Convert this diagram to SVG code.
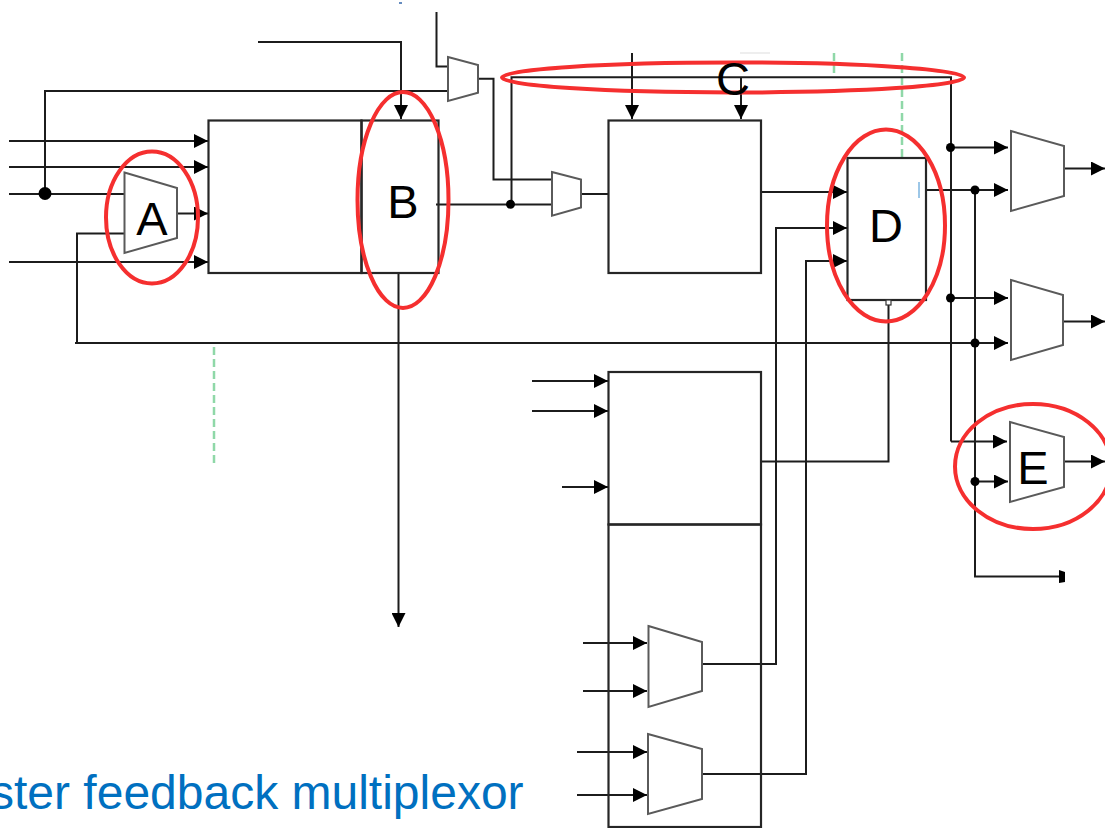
<svg xmlns="http://www.w3.org/2000/svg" width="1105" height="828" viewBox="0 0 1105 828">
<style>
.w{fill:none;stroke:#1c1c1c;stroke-width:2}
.a{marker-end:url(#h)}
.b{fill:none;stroke:#262626;stroke-width:2.200}
.m{fill:#fff;stroke:#5a5a5a;stroke-width:2}
.r{fill:none;stroke:#f52f2f;stroke-width:4}
.g{fill:none;stroke:#8fd8a8;stroke-width:2.500;stroke-dasharray:8 4}
.d{fill:#000}
.l{font-family:"Liberation Sans",Arial,sans-serif;font-size:47px;fill:#000;text-anchor:middle}
</style>
<defs>
<marker id="h" markerUnits="userSpaceOnUse" markerWidth="15" markerHeight="14" refX="14" refY="7" orient="auto"><path d="M0 0L14 7L0 14Z" fill="#000"/></marker>
</defs>
<rect width="1105" height="828" fill="#fff"/>
<g id="guides">
<path class="g" d="M214 347V467M834 53V75M902 53V157"/>
<path d="M740 53H770" fill="none" stroke="#ddd" stroke-width="1"/>
<path d="M919 182V198" fill="none" stroke="#3a8fd0" stroke-width="1"/>
<path d="M399 3H402" fill="none" stroke="#36a" stroke-width="1.500"/>
</g>
<g id="connectors">
<path class="w a" d="M258 42H401V119"/>
<path class="w" d="M436.500 12V66.500H448"/>
<path class="w" d="M448 91H45V193"/>
<path class="w a" d="M9 141H208"/>
<path class="w a" d="M9 167H208"/>
<path class="w" d="M9 194H125"/>
<path class="w a" d="M177 213.500H208"/>
<path class="w a" d="M9 262H208"/>
<path class="w" d="M124 233.500H77V343"/>
<path class="w a" d="M75 343H1008"/>
<path class="w a" d="M398.500 273V627"/>
<path class="w" d="M436 204.500H552"/>
<path class="w" d="M478 78.700H493.500V179.500H552"/>
<path class="w" d="M511.500 205V77.300H951V441.500"/>
<path class="w a" d="M951 441.500H1007"/>
<path class="w" d="M581 194H608"/>
<path class="w a" d="M632 53V119"/>
<path class="w a" d="M741 78V119"/>
<path class="w a" d="M761 192H847"/>
<path class="w a" d="M702 664H776V228H847"/>
<path class="w a" d="M702 774H806V261H847"/>
<path class="w" d="M761 461.500H888.500V305"/>
<path class="w a" d="M926 190H1008"/>
<path class="w a" d="M951 147.500H1008"/>
<path class="w a" d="M951 298H1008"/>
<path class="w" d="M975 190V576.500H1060"/>
<path d="M1059 570L1065 572V582L1059 583Z" fill="#000"/>
<path class="w a" d="M975 481.500H1008"/>
<path class="w a" d="M1064 168.500H1105"/>
<path class="w a" d="M1063 321.500H1105"/>
<path class="w a" d="M1063 461.500H1105"/>
<path class="w a" d="M532 381H608"/>
<path class="w a" d="M532 411H608"/>
<path class="w a" d="M562 487H608"/>
<path class="w a" d="M583 643H647"/>
<path class="w a" d="M583 691H647"/>
<path class="w a" d="M577 752H647"/>
<path class="w a" d="M577 795H647"/>
<circle class="d" cx="45" cy="193.500" r="6.500"/>
<circle class="d" cx="510.500" cy="204.300" r="4.500"/>
<circle class="d" cx="950.500" cy="147.500" r="4.500"/>
<circle class="d" cx="950.500" cy="298" r="4.500"/>
<circle class="d" cx="975" cy="190" r="4.500"/>
<circle class="d" cx="975" cy="343" r="4.500"/>
<circle class="d" cx="975" cy="481.500" r="4.500"/>
</g>
<g id="block-1"><rect class="b" x="208.500" y="120.500" width="153" height="152.500"/></g>
<g id="block-b"><rect class="b" x="361.500" y="120.500" width="77" height="152.500"/></g>
<g id="block-2"><rect class="b" x="608.500" y="120.500" width="152.500" height="152.500"/></g>
<g id="block-d"><rect class="b" x="847.500" y="158" width="78.500" height="142"/><rect x="886" y="300" width="5" height="5" fill="#fff" stroke="#333" stroke-width="1.200"/></g>
<g id="block-3"><rect class="b" x="608.500" y="372" width="152.500" height="152.500"/></g>
<g id="block-4"><rect class="b" x="608.500" y="524.500" width="152.500" height="302.500"/></g>
<g id="mux-a"><path class="m" d="M124.500 172.500L177 188V238L124.500 253Z"/></g>
<g id="mux-top"><path class="m" d="M448 57L478 65V92.700L448 101Z"/></g>
<g id="mux-mid"><path class="m" d="M552 172L581 179.500V207.500L552 215.700Z"/></g>
<g id="mux-1"><path class="m" d="M1011 131L1064 146V196L1011 211Z"/></g>
<g id="mux-2"><path class="m" d="M1011 280L1063 295V345L1011 360Z"/></g>
<g id="mux-e"><path class="m" d="M1010 422L1064 437V487L1010 502Z"/></g>
<g id="mux-3"><path class="m" d="M648.500 626L702 642V691L648.500 707Z"/></g>
<g id="mux-4"><path class="m" d="M648 734L702 749V799L648 814Z"/></g>
<g id="callouts">
<ellipse class="r" cx="152" cy="217.500" rx="46" ry="66"/>
<ellipse class="r" cx="403" cy="200" rx="45.500" ry="108"/>
<ellipse class="r" cx="733" cy="77.500" rx="231" ry="15"/>
<ellipse class="r" cx="886" cy="225.500" rx="59" ry="96"/>
<ellipse class="r" cx="1033" cy="466.500" rx="78" ry="62.500"/>
<text class="l" x="152" y="235">A</text>
<text class="l" x="403" y="218">B</text>
<text class="l" x="733" y="95">C</text>
<text class="l" x="886" y="242">D</text>
<text class="l" x="1033" y="484">E</text>
</g>
<text x="-10" y="809" font-family="'Liberation Sans',Arial,sans-serif" font-size="48" fill="#0070c0">ster feedback multiplexor</text>
</svg>
